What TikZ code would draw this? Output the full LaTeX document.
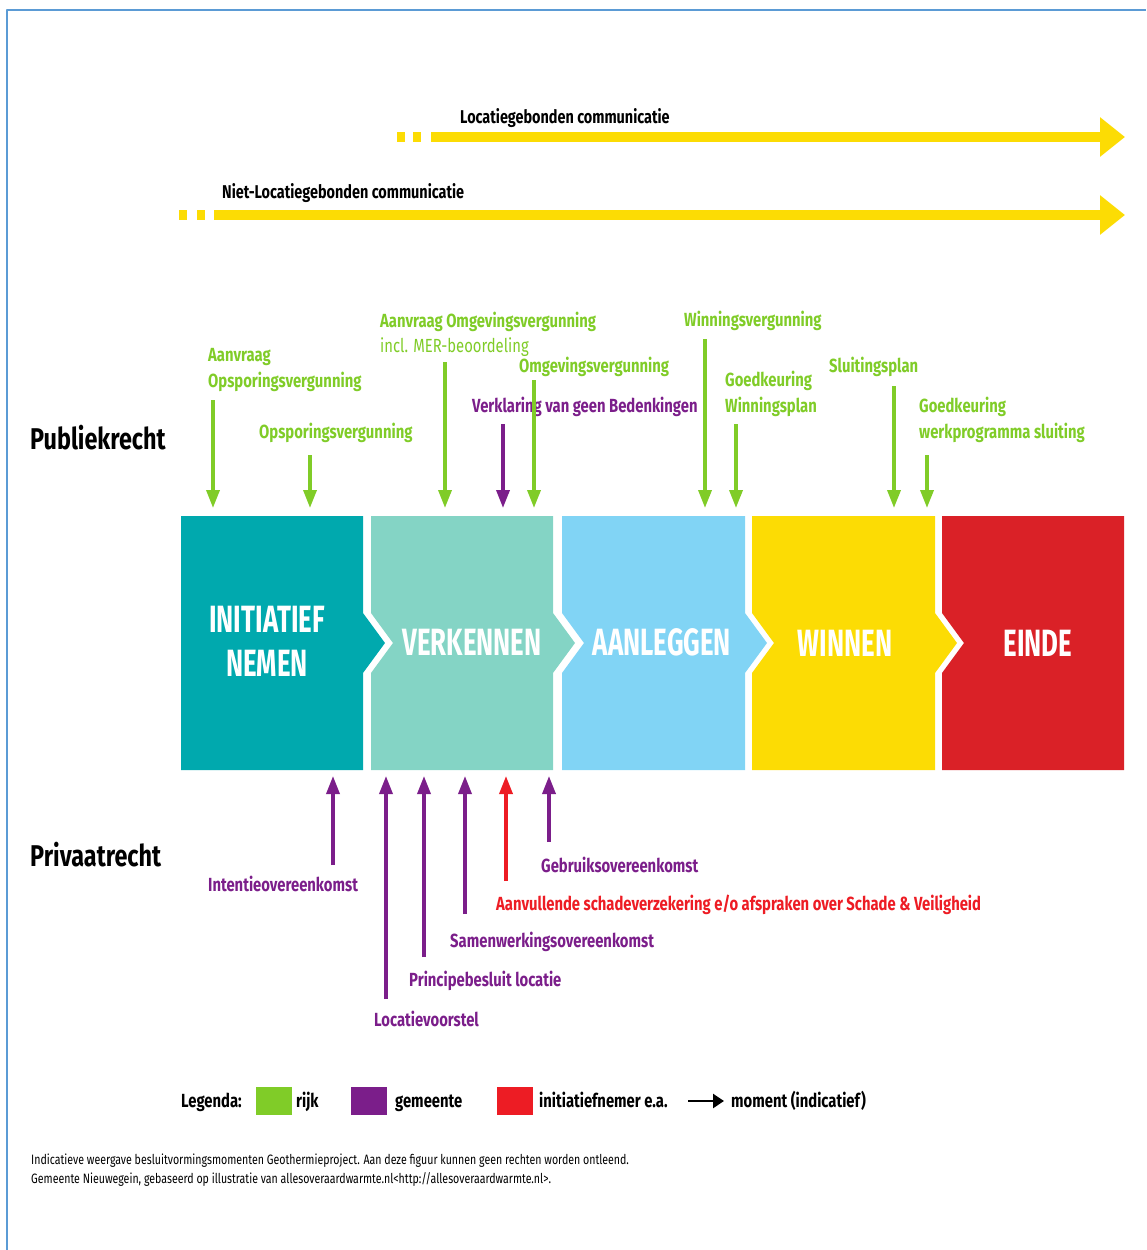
\documentclass[tikz,border=0pt]{standalone}
\usepackage{fontspec}
\setmainfont{Fira Sans}[FakeStretch=0.78]
\newfontfamily\fasefont{Fira Sans}[FakeStretch=0.68]
\usepackage{tikz}
\usetikzlibrary{positioning}
\usetikzlibrary{arrows.meta}

\definecolor{CommGeel}{RGB}{252,220,4}
\definecolor{RandBlauw}{RGB}{91,155,213}
\definecolor{IniKleur}{RGB}{0,169,174}
\definecolor{VerKleur}{RGB}{132,212,197}
\definecolor{AanKleur}{RGB}{129,212,245}
\definecolor{WinKleur}{RGB}{252,220,4}
\definecolor{EinKleur}{RGB}{218,33,39}
\definecolor{RijkGroen}{RGB}{128,204,40}
\definecolor{GemPaars}{RGB}{123,30,138}
\definecolor{NemerRood}{RGB}{237,28,36}

\begin{document}
\begin{tikzpicture}[x=1pt, y=-1pt, line join=round,
  comm/.style={draw=CommGeel, line width=10pt},
  commpijl/.style={comm, -{Triangle[length=25pt,width=38pt]}},
  commtxt/.style={anchor=base west, inner sep=0pt, font=\fontsize{18.5}{24}\selectfont\bfseries},
  rijkpijl/.style={draw=RijkGroen, line width=3.5pt, -{Triangle[length=18pt,width=13pt]}},
  gempijl/.style={rijkpijl, draw=GemPaars},
  nemerpijl/.style={rijkpijl, draw=NemerRood},
  momtxt/.style={anchor=base west, inner sep=0pt, align=left, font=\fontsize{19}{26}\selectfont\bfseries},
  fasetxt/.style={text=white, inner sep=0pt, align=center, font=\fontsize{38}{44}\fasefont\bfseries},
  rechttxt/.style={anchor=base west, inner sep=0pt, font=\fontsize{30}{36}\selectfont\bfseries},
  lgvak/.style={inner sep=0pt, minimum width=36pt, minimum height=28pt},
  lgtxt/.style={inner sep=0pt, font=\fontsize{19}{24}\selectfont\bfseries},
  voettxt/.style={anchor=base west, inner sep=0pt, font=\fontsize{13.6}{15}\selectfont}]
\useasboundingbox (0,0) rectangle (1146,1250);
\draw[RandBlauw, line width=2pt] (7,1250) -- (7,10) -- (1146,10);

% communicatie
\node[commtxt] (loctxt) at (460,123) {Locatiegebonden communicatie};
\coordinate (loc0) at (397,137);
\coordinate (loc1) at (431,137);
\coordinate (loc2) at (1125,137);
\draw[comm, dash pattern=on 8pt off 8pt] (loc0) -- ++(25,0);
\draw[commpijl] (loc1) -- (loc2);
\node[commtxt] (niettxt) at (222,198) {Niet-Locatiegebonden communicatie};
\coordinate (niet0) at (179,215);
\coordinate (niet1) at (214,215);
\coordinate (niet2) at (1125,215);
\draw[comm, dash pattern=on 8pt off 10pt] (niet0) -- ++(27,0);
\draw[commpijl] (niet1) -- (niet2);

\node[rechttxt] (pub) at (30,449) {Publiekrecht};
\node[rechttxt] (priv) at (30,866) {Privaatrecht};

% fasen
\fill[IniKleur] (181,516) -- (363,516) -- (363,613) -- (385,643) -- (363,673) -- (363,770) -- (181,770) -- cycle;
\fill[VerKleur] (371,516) -- (553,516) -- (553,613) -- (575,643) -- (553,673) -- (553,770) -- (371,770) -- (371,673) -- (393,643) -- (371,613) -- cycle;
\fill[AanKleur] (562,516) -- (745,516) -- (745,613) -- (767,643) -- (745,673) -- (745,770) -- (562,770) -- (562,673) -- (584,643) -- (562,613) -- cycle;
\fill[WinKleur] (752,516) -- (935,516) -- (935,613) -- (957,643) -- (935,673) -- (935,770) -- (752,770) -- (752,673) -- (774,643) -- (752,613) -- cycle;
\fill[EinKleur] (942,516) -- (1124,516) -- (1124,770) -- (942,770) -- (942,673) -- (964,643) -- (942,613) -- cycle;
\node[fasetxt] (ini) at (267,641.5) {INITIATIEF\\NEMEN};
\node[fasetxt, anchor=base] (ver) at (472,655) {VERKENNEN};
\node[fasetxt, anchor=base] (aan) at (662,655) {AANLEGGEN};
\node[fasetxt, anchor=base] (win) at (845,656) {WINNEN};
\node[fasetxt, anchor=base] (ein) at (1038,656) {EINDE};

\coordinate (boven) at (0,508);
\coordinate (onder) at (0,776);

% publiekrecht
\node[momtxt, text=RijkGroen] (aovtxt) at (208,387) {Aanvraag\\Opsporingsvergunning};
\node[momtxt, text=RijkGroen] (ovtxt) at (259,438) {Opsporingsvergunning};
\node[momtxt, text=RijkGroen] (aomtxt) at (380,327) {Aanvraag Omgevingsvergunning};
\node[anchor=base west, inner sep=0pt, text=RijkGroen, font=\fontsize{19}{26}\selectfont] (mertxt) at (380,352) {incl. MER-beoordeling};
\node[momtxt, text=GemPaars] (vvgbtxt) at (472,412) {Verklaring van geen Bedenkingen};
\node[momtxt, text=RijkGroen] (omtxt) at (519,372) {Omgevingsvergunning};
\node[momtxt, text=RijkGroen] (wvtxt) at (684,326) {Winningsvergunning};
\node[momtxt, text=RijkGroen] (gwptxt) at (725,412) {Goedkeuring\\Winningsplan};
\node[momtxt, text=RijkGroen] (sptxt) at (829,372) {Sluitingsplan};
\node[momtxt, text=RijkGroen] (gwstxt) at (919,438) {Goedkeuring\\werkprogramma sluiting};

\coordinate (aov) at (213,400);
\coordinate (ov) at (310,455);
\coordinate (aom) at (445,362);
\coordinate (vvgb) at (503,424);
\coordinate (om) at (534,380);
\coordinate (wv) at (705,339);
\coordinate (gwp) at (736,424);
\coordinate (sp) at (894,386);
\coordinate (gws) at (927,455);
\foreach \m in {aov,ov,aom,om,wv,gwp,sp,gws}
  \draw[rijkpijl] (\m) -- (\m |- boven);
\draw[gempijl] (vvgb) -- (vvgb |- boven);

% privaatrecht
\node[momtxt, text=GemPaars] (ioktxt) at (208,891) {Intentieovereenkomst};
\node[momtxt, text=GemPaars] (lvtxt) at (374,1026) {Locatievoorstel};
\node[momtxt, text=GemPaars] (pbtxt) at (409,986) {Principebesluit locatie};
\node[momtxt, text=GemPaars] (swtxt) at (450,947) {Samenwerkingsovereenkomst};
\node[momtxt, text=NemerRood] (sdtxt) at (496,910) {Aanvullende schadeverzekering e/o afspraken over Schade \& Veiligheid};
\node[momtxt, text=GemPaars] (gbtxt) at (541,872) {Gebruiksovereenkomst};

\coordinate (iok) at (333,865);
\coordinate (lv) at (386,999);
\coordinate (pb) at (424,957);
\coordinate (sw) at (465,914);
\coordinate (sd) at (506,881);
\coordinate (gb) at (549,842);
\foreach \m in {iok,lv,pb,sw,gb}
  \draw[gempijl] (\m) -- (\m |- onder);
\draw[nemerpijl] (sd) -- (sd |- onder);

% legenda
\node[lgtxt, anchor=base west] (lgtitel) at (181,1107) {Legenda:};
\node[lgvak, fill=RijkGroen, anchor=north west] (lgrijk) at (256,1087) {};
\node[lgtxt, anchor=base west] (lgrijktxt) at (296,1107) {rijk};
\node[lgvak, fill=GemPaars, anchor=north west] (lggem) at (351,1087) {};
\node[lgtxt, anchor=base west] (lggemtxt) at (395,1107) {gemeente};
\node[lgvak, fill=NemerRood, anchor=north west] (lgnemer) at (497,1087) {};
\node[lgtxt, anchor=base west] (lgnemertxt) at (539,1107) {initiatiefnemer e.a.};
\coordinate (lgp0) at (688,1101);
\coordinate (lgp1) at (724,1101);
\draw[line width=2.5pt, -{Triangle[length=11pt,width=14pt]}] (lgp0) -- (lgp1);
\node[lgtxt, anchor=base west] (lgmomtxt) at (731,1107) {moment (indicatief)};

% voetnoot
\node[voettxt] (voet1) at (31,1164) {Indicatieve weergave besluitvormingsmomenten Geothermieproject. Aan deze figuur kunnen geen rechten worden ontleend.};
\node[voettxt] (voet2) at (31,1183) {Gemeente Nieuwegein, gebaseerd op illustratie van allesoveraardwarmte.nl<http://allesoveraardwarmte.nl>.};
\end{tikzpicture}
\end{document}
